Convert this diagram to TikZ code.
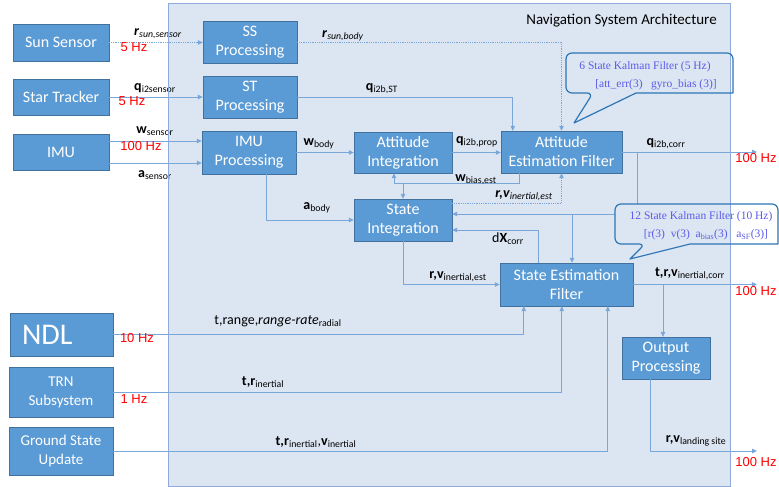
\documentclass[tikz,border=0pt]{standalone}
\usepackage{fontspec}
\setmainfont{Carlito}
\newfontfamily\arialf{Liberation Sans}
\newfontfamily\timesf{Liberation Serif}
\usetikzlibrary{positioning,calc,arrows.meta}
\definecolor{NavPanel}{HTML}{DCE6F2}
\definecolor{NavPanelLine}{HTML}{8FAADC}
\definecolor{NavBox}{HTML}{5B9BD5}
\definecolor{NavBoxLine}{HTML}{41719C}
\definecolor{NavFlow}{HTML}{7AA7DA}
\definecolor{NavCallout}{HTML}{2E75B6}
\definecolor{NavKalman}{HTML}{5B5BE8}
\newcommand{\sv}[2]{\textbf{#1}\textsubscript{#2}}
% callout outlines (pointer tip first)
\newcommand{\kfsix}{(574,123) -- (636,93) -- (733,93) [rounded corners=6pt] -- (733,53) -- (566,53) -- (566,93) -- (593,93) [sharp corners] -- cycle}
\newcommand{\kftwelve}{(630,259) -- (690,244) -- (778,244) [rounded corners=6pt] -- (778,204) -- (615,204) -- (615,244) -- (645,244) [sharp corners] -- cycle}
\tikzset{
  blk/.style={draw=NavBoxLine, fill=NavBox, text=white, align=center, inner sep=0pt, font=\fontsize{16}{19}\selectfont},
  flow/.style={draw=NavFlow, line width=0.8pt, -{Triangle[length=5pt,width=4.5pt]}},
  lab/.style={inner sep=0pt, font=\fontsize{14}{16}\selectfont},
  hz/.style={inner sep=0pt, text=red, font=\arialf\fontsize{13}{15}\selectfont},
  callout/.style={draw=NavCallout, line width=1.2pt, line join=round},
  kalman/.style={inner sep=0pt, text=NavKalman, font=\timesf\fontsize{11.5}{13}\selectfont},
}

\begin{document}
\begin{tikzpicture}[x=1pt,y=-1pt]
  \useasboundingbox (0,0) rectangle (779,487);

  % Panel
  \fill[NavPanel] (168,4) rectangle (730,486);
  \node[inner sep=0pt, font=\fontsize{15}{17}\selectfont] (title) at (621.5,21) {Navigation System Architecture};

  % Sensors
  \node[blk, minimum width=96, minimum height=37] (sun) at (61,42.5) {Sun Sensor};
  \node[blk, minimum width=96, minimum height=36] (star) at (61,97) {Star Tracker};
  \node[blk, minimum width=96, minimum height=36] (imu) at (61,152) {IMU};
  \node[blk, minimum width=103, minimum height=43, text width=79, align=left, font=\fontsize{30}{32}\selectfont] (ndl) at (61.5,334.5) {NDL};
  \node[blk, minimum width=104, minimum height=50, font=\fontsize{15}{19}\selectfont] (trn) at (61,392) {TRN\\Subsystem};
  \node[blk, minimum width=104, minimum height=48, font=\fontsize{15}{19}\selectfont] (gsu) at (61,451) {Ground State\\Update};

  % Processing blocks
  \node[blk, minimum width=94, minimum height=42] (ssp) at (250,42) {SS\\Processing};
  \node[blk, minimum width=94, minimum height=42] (stp) at (250,97) {ST\\Processing};
  \node[blk, minimum width=94, minimum height=43] (imup) at (249,152.5) {IMU\\Processing};
  \node[blk, minimum width=98, minimum height=41] (attint) at (403,152.5) {Attitude\\Integration};
  \node[blk, minimum width=121, minimum height=42] (aef) at (561.5,152) {Attitude\\Estimation Filter};
  \node[blk, minimum width=98, minimum height=42] (stint) at (403,220) {State\\Integration};
  \node[blk, minimum width=133, minimum height=43] (sef) at (566.5,284.5) {State Estimation\\Filter};
  \node[blk, minimum width=88, minimum height=42] (outp) at (666,358) {Output\\Processing};

  % Free ends of the outputs
  \coordinate (outx) at (757,0);
  \coordinate (out3) at (757,451);

  % Sensor inputs
  \draw[flow, densely dotted] (sun.east) -- (sun.east -| ssp.west);
  \draw[flow] (star.east) -- (star.east -| stp.west);
  \draw[flow] ([yshift=11pt]imu.east) -- ([yshift=11pt]imu.east -| imup.west);
  \draw[flow] ([yshift=-11pt]imu.east) -- ([yshift=-11pt]imu.east -| imup.west);

  % Attitude loop
  \draw[flow, densely dotted] (ssp.east) -| (aef.north);
  \draw[flow] (stp.east) -| ([xshift=12pt]aef.north west);
  \draw[flow] (imup.east) -- (imup.east -| attint.west);
  \draw[flow] (attint.east) -- (attint.east -| aef.west);
  \coordinate (wbias) at ([yshift=-10pt]aef.south west);
  \draw[flow] ([xshift=19pt]aef.south west) -- ([xshift=19pt]wbias) -| ([xshift=-9pt]attint.south);
  \draw[flow] (wbias -| stint.north) -- (stint.north);
  \draw[flow] ([xshift=17pt]imup.south) |- (stint.west);
  \draw[flow, densely dotted] ([yshift=17pt]stint.east) -| (aef.south);
  \draw[flow] (aef.east) -- (aef.east -| outx);

  % State loop
  \coordinate (qb) at ([xshift=15.5pt]aef.east);
  \path ([yshift=6pt]stint.east) coordinate (qin);
  \draw[flow] (qb) |- (qin);
  \draw[flow] ([xshift=5.5pt]sef.north |- qin) -- ([xshift=5.5pt]sef.north);
  \draw[flow] ([xshift=-28.5pt]sef.north) |- ([yshift=-10pt]stint.east);
  \draw[flow] (stint.south) |- (sef.west);
  \draw[flow] (sef.east) -- (sef.east -| outx);
  \draw[flow] ([xshift=-3pt]outp.north |- sef.east) -- ([xshift=-3pt]outp.north);
  \draw[flow] ([xshift=-16pt]outp.south) |- (out3);

  % Navigation aids
  \draw[flow] (ndl.east) -| ([xshift=24pt]sef.south west);
  \draw[flow] (trn.east) -| ([xshift=62pt]sef.south west);
  \draw[flow] (gsu.east) -| ([xshift=108pt]sef.south west);

  % Signal labels
  \node[lab] (rsun) at (158,34) {\textbf{\textit{r}}\textsubscript{\textit{sun,sensor}}};
  \node[hz] (hzsun) at (134,47) {5 Hz};
  \node[lab] (qsens) at (155,88) {\sv{q}{i2sensor}};
  \node[hz] (hzstar) at (132,101) {5 Hz};
  \node[lab] (wsens) at (155,131) {\sv{w}{sensor}};
  \node[hz] (hzimu) at (141,146) {100 Hz};
  \node[lab] (asens) at (155,175) {\sv{a}{sensor}};
  \node[lab] (rbody) at (343,36) {\textbf{\textit{r}}\textsubscript{\textit{sun,body}}};
  \node[lab] (qst) at (382,89) {\sv{q}{i2b,ST}};
  \node[lab] (wbody) at (319,144) {\sv{w}{body}};
  \node[lab] (qprop) at (477,142) {\sv{q}{i2b,prop}};
  \node[lab] (wbest) at (476,180) {\sv{w}{bias,est}};
  \node[lab] (rvest) at (524,196) {\textbf{\textit{r,v}}\textsubscript{\textit{inertial,est}}};
  \node[lab] (abody) at (317,208) {\sv{a}{body}};
  \node[lab] (qcorr) at (666,144) {\sv{q}{i2b,corr}};
  \node[hz] (hzq) at (756,158) {100 Hz};
  \node[lab] (dx) at (508,239) {d\sv{X}{corr}};
  \node[lab] (rvint) at (458,277) {\sv{r,v}{inertial,est}};
  \node[lab] (trv) at (690,274) {\sv{t,r,v}{inertial,corr}};
  \node[hz] (hzsef) at (756,291) {100 Hz};
  \node[lab] (rvland) at (696,441) {\sv{r,v}{landing site}};
  \node[hz] (hzout) at (756,462) {100 Hz};
  \node[lab] (range) at (278,321) {t,range,\textit{range-rate}\textsubscript{radial}};
  \node[hz] (hzndl) at (137,338) {10 Hz};
  \node[lab] (trin) at (263,382) {\sv{t,r}{inertial}};
  \node[hz] (hztrn) at (134,399) {1 Hz};
  \node[lab] (trvin) at (316,442) {\sv{t,r}{inertial},\sv{v}{inertial}};

  % Kalman filter callouts (they hide the lines behind them)
  \fill[NavPanel] \kfsix;
  \fill[NavPanel] \kftwelve;
  \begin{scope}
    \clip (730,0) rectangle (779,487);
    \fill[white] \kfsix;
    \fill[white] \kftwelve;
  \end{scope}
  \draw[NavPanelLine, line width=1pt] (168,4) rectangle (730,486);
  \draw[callout] \kfsix;
  \draw[callout] \kftwelve;
  \node[kalman] (kf6a) at (645,67) {6 State Kalman Filter (5 Hz)};
  \node[kalman] (kf6b) at (656,85) {[att\_err(3)~~~gyro\_bias (3)]};
  \node[kalman] (kf12a) at (701,217) {12 State Kalman Filter (10 Hz)};
  \node[kalman] (kf12b) at (706,235) {[r(3)~~v(3)~~a\textsubscript{bias}(3)~~~a\textsubscript{SF}(3)]};
\end{tikzpicture}
\end{document}
